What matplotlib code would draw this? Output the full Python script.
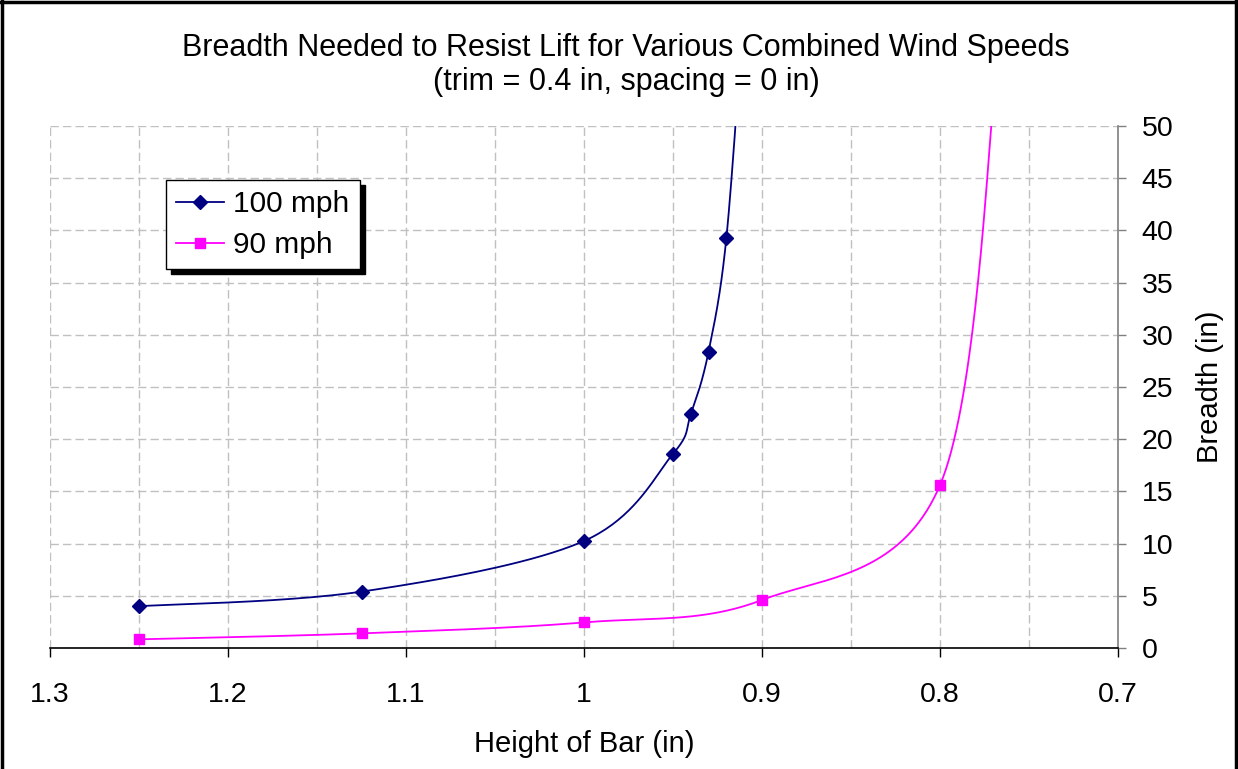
import numpy as np
import matplotlib
matplotlib.use("Agg")
import matplotlib.pyplot as plt
from matplotlib.ticker import MultipleLocator, FuncFormatter

plt.rcParams['font.family'] = ['Liberation Sans', 'DejaVu Sans']

# Height of bar (in) vs breadth needed (in); last point of each series lies above the chart
height_100 = [1.25, 1.125, 1.0, 0.95, 0.94, 0.93, 0.92, 0.91]
breadth_100 = [4.0, 5.4, 10.25, 18.6, 22.4, 28.4, 39.3, 62.0]
height_90 = [1.25, 1.125, 1.0, 0.9, 0.8, 0.767]
breadth_90 = [0.83, 1.4, 2.45, 4.6, 15.6, 58.0]

series_names = ['100 mph', '90 mph']
series_colors = ['#000080', '#FF00FF']
series_markers = ['D', 's']
marker_sizes = [7.5, 7]


def excel_smooth(xs, ys, n=40):
    # bezier smoothing like the spreadsheet's "smoothed line"
    p = np.column_stack([xs, ys]).astype(float)
    pts = np.vstack([p[0], p, p[-1]])
    out = []
    t = np.linspace(0, 1, n)[:, None]
    for i in range(1, len(pts) - 2):
        p0, p1, p2, p3 = pts[i - 1], pts[i], pts[i + 1], pts[i + 2]
        c1 = p1 + (p2 - p0) / 6
        c2 = p2 - (p3 - p1) / 6
        seg = ((1 - t) ** 3) * p1 + 3 * ((1 - t) ** 2) * t * c1 + 3 * (1 - t) * t ** 2 * c2 + t ** 3 * p2
        out.append(seg)
    seg = np.vstack(out)
    return seg[:, 0], seg[:, 1]


fig = plt.figure(figsize=(12.38, 7.69), dpi=100)
ax = fig.add_axes([50 / 1238, 121 / 769, 1068 / 1238, 522 / 769])

data = [(height_100, breadth_100), (height_90, breadth_90)]
for (hx, by), name, col, mk, ms in zip(data, series_names, series_colors, series_markers, marker_sizes):
    sx, sy = excel_smooth(hx, by)
    ax.plot(sx, sy, color=col, lw=1.3, zorder=3)
    ax.plot(hx, by, linestyle='none', marker=mk, color=col, markersize=ms, zorder=4)
    ax.plot([], [], color=col, lw=1.3, marker=mk, markersize=ms, label=name)

ax.set_xlim(1.3, 0.7)
ax.set_ylim(0, 50)
ax.xaxis.set_major_locator(MultipleLocator(0.1))
ax.xaxis.set_minor_locator(MultipleLocator(0.05))
ax.yaxis.set_major_locator(MultipleLocator(5))
ax.xaxis.set_major_formatter(FuncFormatter(lambda v, p: f'{v:g}'))

ax.grid(True, which='both', axis='x', color='#c0c0c0', lw=1.0, dashes=(6, 3))
ax.grid(True, which='major', axis='y', color='#c0c0c0', lw=1.0, dashes=(6, 3))
ax.set_axisbelow(True)

for s in ['top', 'left']:
    ax.spines[s].set_visible(False)
ax.spines['bottom'].set_color('black')
ax.spines['bottom'].set_linewidth(1.2)
ax.spines['right'].set_color('#808080')
ax.spines['right'].set_linewidth(1.2)

ax.yaxis.tick_right()
ax.yaxis.set_label_position('right')
ax.tick_params(axis='x', which='major', direction='out', length=6.5, width=1, pad=18,
               labelsize=20.5, colors='black')
ax.tick_params(axis='x', which='minor', length=0)
ax.tick_params(axis='y', which='major', direction='out', length=6, width=1, pad=11,
               labelsize=20.5, colors='#808080', labelcolor='black')

ax.set_xlabel('Height of Bar (in)', fontsize=21, labelpad=16)
ax.set_ylabel('Breadth (in)', fontsize=21, labelpad=16)

fig.text(626 / 1238, 1 - 48 / 769, 'Breadth Needed to Resist Lift for Various Combined Wind Speeds',
         ha='center', va='center', fontsize=22)
fig.text(626 / 1238, 1 - 82 / 769, '(trim = 0.4 in, spacing = 0 in)',
         ha='center', va='center', fontsize=22)

leg = ax.legend(loc='upper left', bbox_to_anchor=(166 / 1238, 1 - 180 / 769),
                bbox_transform=fig.transFigure, fontsize=21.5, fancybox=False,
                edgecolor='black', framealpha=1,
                shadow={'color': 'black', 'alpha': 1, 'ox': 3.5, 'oy': -3.5},
                handlelength=1.6, handletextpad=0.3, borderpad=0.35, labelspacing=0.42,
                borderaxespad=0)
leg.get_frame().set_linewidth(1.0)

# outer chart frame
for x0, y0, x1, y1 in [(0.0015, 0, 0.0015, 1), (0.9985, 0, 0.9985, 1), (0, 0.998, 1, 0.998)]:
    fig.add_artist(plt.Line2D([x0, x1], [y0, y1], color='black', lw=2.5, transform=fig.transFigure))

fig.savefig('out.png', dpi=100)
